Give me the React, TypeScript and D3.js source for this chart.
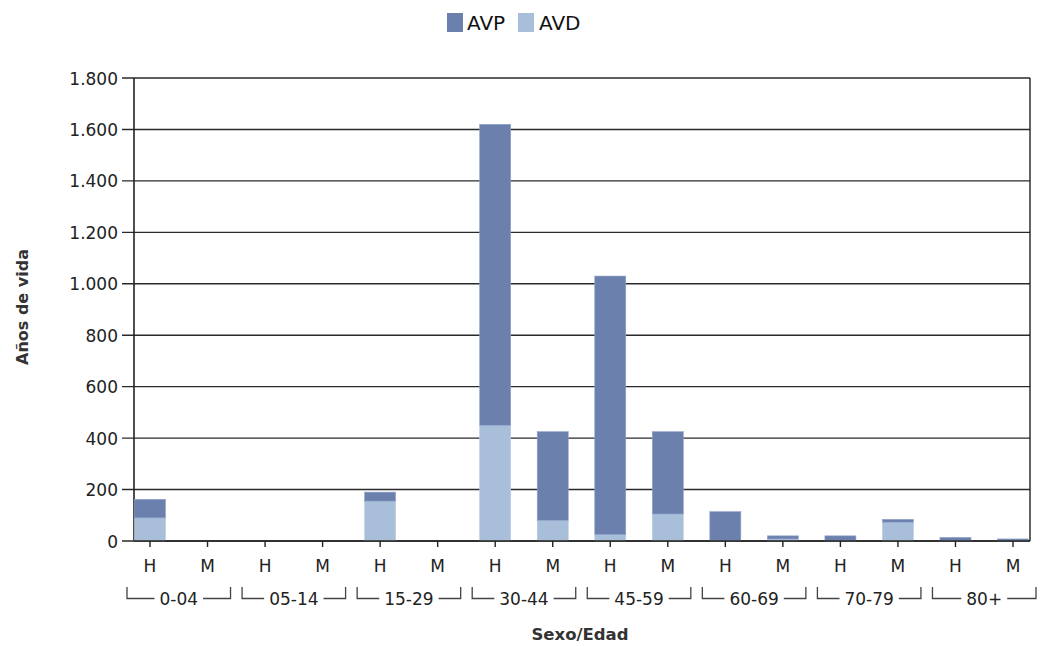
import React from "react";
import * as d3 from "d3";

const groups = ["0-04", "05-14", "15-29", "30-44", "45-59", "60-69", "70-79", "80+"];
const sexes = ["H", "M"];
// order: for each group, H then M
const avp = [72, 0, 0, 0, 35, 0, 1170, 345, 1005, 320, 112, 12, 18, 11, 12, 7];
const avd = [90, 0, 0, 0, 155, 0, 450, 80, 25, 105, 2, 8, 2, 73, 2, 1];
const yTicks = [0, 200, 400, 600, 800, 1000, 1200, 1400, 1600, 1800];
const colors = { AVP: "#6b80ad", AVD: "#a8bed9" };

const W = 1041, H = 646;
const left = 134, right = 1030, top = 78, bottom = 541;
const font = "'DejaVu Sans', Verdana, sans-serif";

const charW: Record<string, number> = { "-": 0.361, "+": 0.838 };
const textWidth = (s: string, size: number) =>
  s.split("").reduce((a, c) => a + (charW[c] ?? 0.636), 0) * size;

export default function App() {
  const cats = groups.flatMap((g) => sexes.map((s) => `${g}|${s}`));
  const x = d3.scalePoint<string>().domain(cats).range([left + 16, right - 17]);
  const y = d3.scaleLinear().domain([0, 1800]).range([bottom, top]);
  const bw = 31;
  const fmt = (v: number) => d3.format(",")(v).replace(/,/g, ".");

  return (
    <svg width={W} height={H} style={{ display: "block", position: "absolute", left: 0, top: 0 }}>
      <rect width={W} height={H} fill="#fff" />
      {/* legend */}
      <g fontFamily={font} fontSize={20} fill="#111">
        <rect x={447} y={13} width={16} height={19} fill={colors.AVP} />
        <text x={467} y={30}>AVP</text>
        <rect x={518} y={13} width={16} height={19} fill={colors.AVD} />
        <text x={539} y={30}>AVD</text>
      </g>
      {/* gridlines */}
      {yTicks.map((t) => (
        <g key={t}>
          <line x1={left - 12} x2={right} y1={y(t)} y2={y(t)} stroke="#2a2a2a" strokeWidth={1.4} />
          <text x={118} y={y(t) + 6.5} textAnchor="end" fontFamily={font} fontSize={17} fill="#222">
            {fmt(t)}
          </text>
        </g>
      ))}
      <line x1={left} x2={left} y1={top} y2={bottom} stroke="#222" strokeWidth={1.6} />
      <line x1={right} x2={right} y1={top} y2={bottom} stroke="#222" strokeWidth={1.4} />
      {/* bars */}
      {cats.map((c, i) => {
        const cx = x(c)!;
        const d = avd[i], p = avp[i];
        return (
          <g key={c}>
            {d > 0 && (
              <rect x={cx - bw / 2} y={y(d)} width={bw} height={y(0) - y(d)} fill={colors.AVD} stroke="#b8cbe3" strokeWidth={0.6} />
            )}
            {p > 0 && (
              <rect x={cx - bw / 2} y={y(d + p)} width={bw} height={y(d) - y(d + p)} fill={colors.AVP} stroke="#8ea2c8" strokeWidth={0.6} />
            )}
          </g>
        );
      })}
      <line x1={left} x2={right} y1={bottom} y2={bottom} stroke="#222" strokeWidth={1.6} />
      {/* x ticks and labels */}
      {cats.map((c) => {
        const cx = x(c)!;
        return (
          <g key={c}>
            <line x1={cx} x2={cx} y1={bottom} y2={bottom + 6} stroke="#222" strokeWidth={1.4} />
            <text x={cx} y={572} textAnchor="middle" fontFamily={font} fontSize={17} fill="#222">
              {c.split("|")[1]}
            </text>
          </g>
        );
      })}
      {/* group brackets */}
      {groups.map((g) => {
        const x1 = x(`${g}|H`)! - 23;
        const x2 = x(`${g}|M`)! + 23;
        const mid = (x1 + x2) / 2;
        const half = textWidth(g, 17) / 2 + 5;
        return (
          <g key={g} stroke="#444" strokeWidth={1.3} fill="none">
            <path d={`M${x1},587 V598.5 H${mid - half}`} />
            <path d={`M${mid + half},598.5 H${x2} V587`} />
            <text x={mid} y={605} textAnchor="middle" fontFamily={font} fontSize={17} fill="#222" stroke="none">
              {g}
            </text>
          </g>
        );
      })}
      {/* axis titles */}
      <text x={580} y={640} textAnchor="middle" fontFamily={font} fontSize={16.5} fontWeight="bold" fill="#333">
        Sexo/Edad
      </text>
      <text transform="translate(28,307) rotate(-90)" textAnchor="middle" fontFamily={font} fontSize={16} fontWeight="bold" fill="#333">
        Años de vida
      </text>
    </svg>
  );
}
